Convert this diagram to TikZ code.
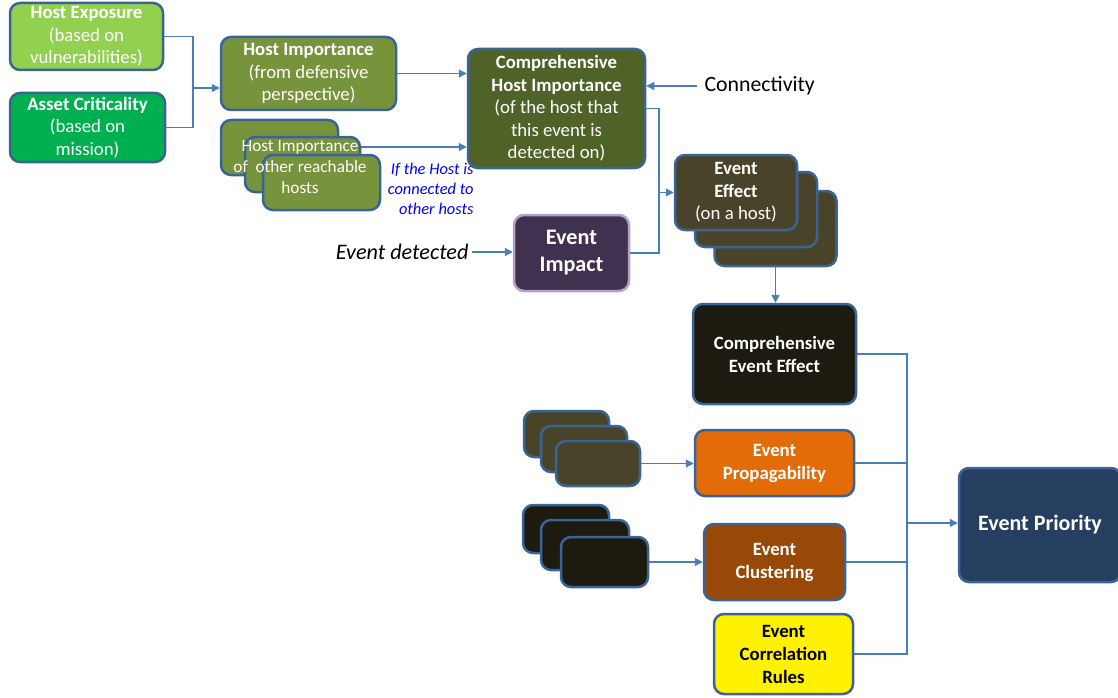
\documentclass[tikz,border=0pt]{standalone}
\usepackage{fontspec}
\setmainfont{Carlito}
\usetikzlibrary{arrows.meta,calc}
\definecolor{bordc}{HTML}{3B6496}
\definecolor{linec}{HTML}{4A7EBB}
\definecolor{cHexp}{HTML}{92D050}
\definecolor{cAcrit}{HTML}{00B050}
\definecolor{cHimp}{HTML}{77933C}
\definecolor{cChi}{HTML}{4F6228}
\definecolor{cEff}{HTML}{494429}
\definecolor{cImp}{HTML}{403151}
\definecolor{cImpB}{HTML}{B3A2C7}
\definecolor{cCee}{HTML}{1D1B10}
\definecolor{cProp}{HTML}{E36C09}
\definecolor{cClu}{HTML}{984807}
\definecolor{cPri}{HTML}{263F61}
\tikzset{
  box/.style={draw=bordc, line width=2.5pt, rounded corners=10pt, text=white,
    align=center, inner sep=0pt, font=\fontsize{18.8}{22.5}\selectfont},
  wire/.style={draw=linec, line width=1.2pt},
  arr/.style={wire, -{Triangle[length=8pt,width=8pt]}},
}
\begin{document}
\begin{tikzpicture}[x=1pt,y=-1pt]
\useasboundingbox (0,0) rectangle (1118,698);

% left inputs
\node[box, fill=cHexp, minimum width=153pt, minimum height=67pt] (hexp) at (86.5,36.5)
  {\textbf{Host Exposure}\\(based on\\vulnerabilities)};
\node[box, fill=cAcrit, minimum width=155pt, minimum height=69pt] (acrit) at (87.5,127.5)
  {\textbf{Asset Criticality}\\(based on\\mission)};
\node[box, fill=cHimp, minimum width=175pt, minimum height=73pt] (himp) at (308.5,73.5)
  {\textbf{Host Importance}\\(from defensive\\perspective)};

% stack of reachable hosts
\node[box, fill=cHimp, minimum width=117pt, minimum height=55pt] (o1) at (279.5,147.5) {};
\node[box, fill=cHimp, minimum width=115pt, minimum height=55pt] (o2) at (302.5,164.5) {};
\node[box, fill=cHimp, minimum width=117pt, minimum height=55pt] (o3) at (321.5,182.5) {};
\node[text=white, align=center, font=\fontsize{17.2}{21}\selectfont] (otxt) at (300,167)
  {Host Importance\\of\ \ other reachable\\hosts};
\node[text=blue, align=right, anchor=east, font=\fontsize{16.4}{20}\selectfont\itshape] (note) at (477,189)
  {If the Host is\\connected to\\other hosts};

% comprehensive host importance
\node[box, fill=cChi, minimum width=177pt, minimum height=119pt] (chi) at (556.5,108.5)
  {\textbf{Comprehensive}\\\textbf{Host Importance}\\(of the host that\\this event is\\detected on)};
\node[anchor=west, font=\fontsize{21.8}{24}\selectfont] (conn) at (701,86) {Connectivity};

% event impact
\node[box, draw=cImpB, fill=cImp, minimum width=115pt, minimum height=76pt,
  font=\fontsize{22.2}{27}\selectfont\bfseries] (eimp) at (571.5,253) {Event\\Impact};
\node[anchor=east, font=\fontsize{22.2}{24}\selectfont\itshape] (edet) at (472,252) {Event detected};

% event effect stack
\node[box, fill=cEff, minimum width=122pt, minimum height=75pt] (e3) at (775.5,228.5) {};
\node[box, fill=cEff, minimum width=122pt, minimum height=75pt] (e2) at (756,209.5) {};
\node[box, fill=cEff, minimum width=122pt, minimum height=75pt] (e1) at (736,192.5)
  {\textbf{Event}\\\textbf{Effect}\\(on a host)};

% comprehensive event effect
\node[box, fill=cCee, minimum width=163pt, minimum height=100pt, font=\fontsize{18.8}{23}\selectfont\bfseries] (cee) at (774.5,354)
  {Comprehensive\\Event Effect};

% propagability inputs
\node[box, fill=cEff, minimum width=85pt, minimum height=46pt] (ps1) at (566.5,434) {};
\node[box, fill=cEff, minimum width=86pt, minimum height=46pt] (ps2) at (584,449) {};
\node[box, fill=cEff, minimum width=84pt, minimum height=45pt] (ps3) at (598,463.5) {};
\node[box, fill=cProp, minimum width=159pt, minimum height=66pt, font=\fontsize{18.8}{23}\selectfont\bfseries] (eprop) at (774.5,463)
  {Event\\Propagability};

% clustering inputs
\node[box, fill=cCee, minimum width=86pt, minimum height=48pt] (cs1) at (566,529) {};
\node[box, fill=cCee, minimum width=88pt, minimum height=50pt] (cs2) at (585,545) {};
\node[box, fill=cCee, minimum width=87pt, minimum height=50pt] (cs3) at (604.5,562) {};
\node[box, fill=cClu, minimum width=141pt, minimum height=76pt, font=\fontsize{18.8}{23}\selectfont\bfseries] (eclu) at (774.5,562)
  {Event\\Clustering};

\node[box, fill=yellow, text=black, minimum width=139pt, minimum height=80pt, font=\fontsize{18.8}{23}\selectfont\bfseries] (ecr) at (783.5,654)
  {Event\\Correlation\\Rules};

\node[box, fill=cPri, minimum width=162pt, minimum height=114pt, font=\fontsize{22}{24}\selectfont\bfseries] (epri) at (1040,525)
  {Event Priority};

% connectors
\coordinate (j1) at (193,88);
\draw[wire] (hexp.east) -| (j1);
\draw[wire] (acrit.east) -| (j1);
\draw[arr] (j1) -- (j1 -| himp.west);
\draw[arr] (himp.east) -- (himp.east -| chi.west);
\coordinate (oout) at ([yshift=17.5pt]o2.east);
\draw[arr] (oout) -- (oout -| chi.west);
\coordinate (cin) at (697,86);
\draw[arr] (cin) -- (cin -| chi.east);

\coordinate (j2) at (659,192.5);
\draw[wire] (chi.east) -| (j2);
\draw[wire] (eimp.east) -| (j2);
\draw[arr] (j2) -- (e1.west);
\draw[arr] (edet.east) -- (edet.east -| eimp.west);
\draw[arr] (e3.south) -- (e3.south |- cee.north);

\draw[arr] (ps3.east) -- (ps3.east -| eprop.west);
\draw[arr] (cs3.east) -- (cs3.east -| eclu.west);

\coordinate (j3) at (907,523);
\draw[wire] (cee.east) -| (j3);
\draw[wire] (eprop.east) -| (j3);
\draw[wire] (eclu.east) -| (j3);
\draw[wire] (ecr.east) -| (j3);
\draw[arr] (j3) -- (j3 -| epri.west);
\end{tikzpicture}
\end{document}
